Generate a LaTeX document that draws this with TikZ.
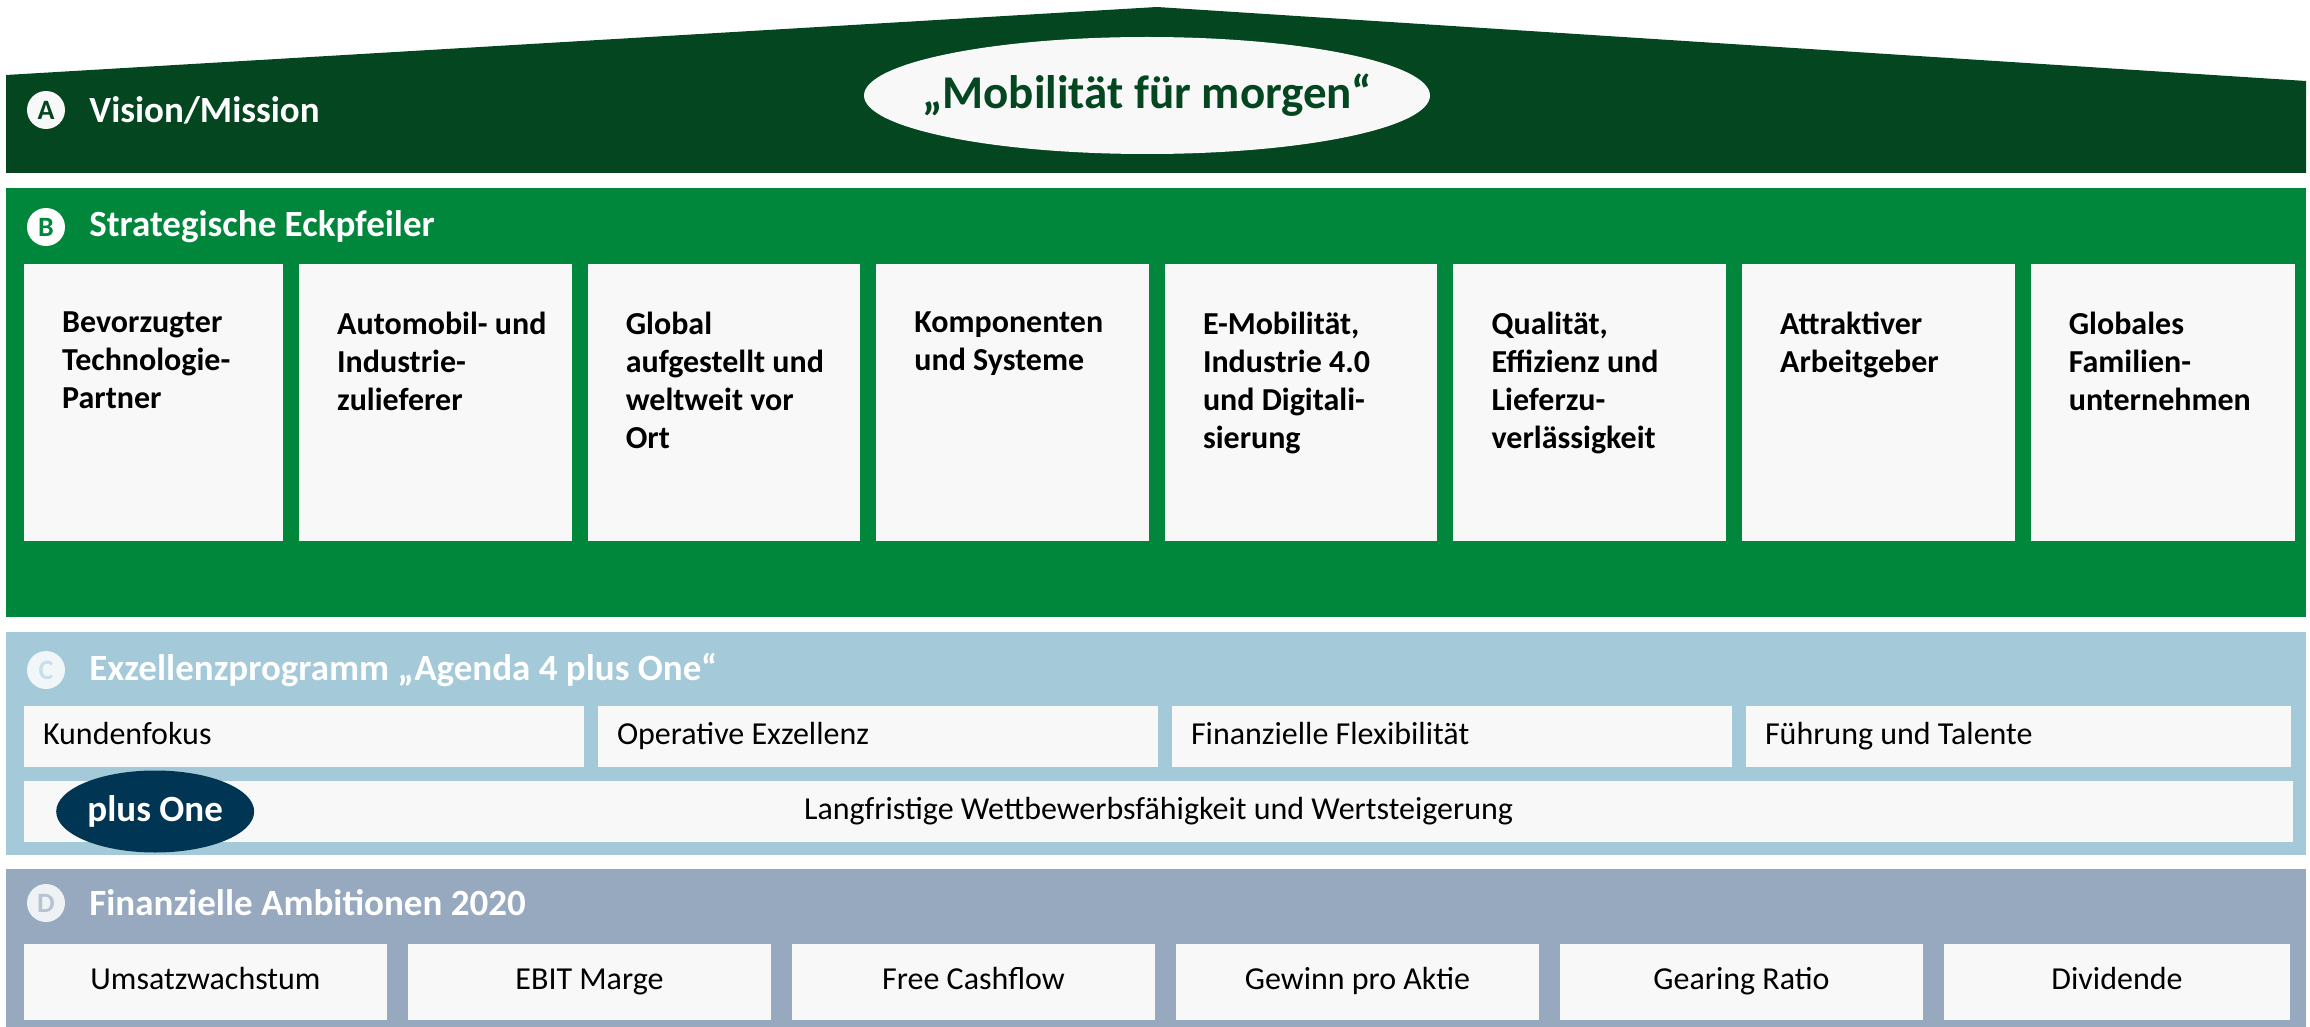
\documentclass[tikz,border=0pt]{standalone}
\usepackage{fontspec}
\setmainfont{Carlito}
\usetikzlibrary{positioning,shapes.geometric}

\definecolor{visiongreen}{HTML}{03461F}
\definecolor{pillargreen}{HTML}{00873C}
\definecolor{agendablue}{HTML}{A4C9D8}
\definecolor{ambitiongrey}{HTML}{97A9BF}
\definecolor{boxwhite}{HTML}{F8F8F8}
\definecolor{plusnavy}{HTML}{003654}

\begin{document}
\begin{tikzpicture}[
        x=1pt, y=-1pt,
        node distance=16pt,
        band/.style={
            rectangle,
            minimum width=2300pt,
            anchor=north west,
            inner sep=0pt,
            outer sep=0pt,
        },
        badge/.style={
            circle,
            minimum size=38pt,
            inner sep=0pt,
            font=\fontsize{28}{32}\selectfont\bfseries,
        },
        bandtitle/.style={
            inner sep=0pt,
            text=white,
            font=\fontsize{37}{44}\selectfont\bfseries,
        },
        motto/.style={
            ellipse,
            fill=boxwhite,
            minimum width=566pt,
            minimum height=117pt,
            inner xsep=-30pt,
            inner ysep=0pt,
            text=visiongreen,
            font=\fontsize{47}{56}\selectfont\bfseries,
        },
        pillar/.style={
            rectangle,
            fill=boxwhite,
            minimum width=272.6pt,
            minimum height=277pt,
            outer sep=0pt,
        },
        pillartext/.style={
            inner sep=0pt,
            align=left,
            font=\fontsize{32}{38}\selectfont\bfseries,
            execute at begin node={\spaceskip=0.226em\relax},
        },
        agenda/.style={
            rectangle,
            fill=boxwhite,
            minimum height=61pt,
            text width=522pt,
            inner xsep=19pt,
            inner ysep=0pt,
            align=left,
            outer sep=0pt,
            font=\fontsize{32}{38}\selectfont,
            execute at begin node={\spaceskip=0.226em\relax},
        },
        plusone/.style={
            ellipse,
            fill=plusnavy,
            minimum width=198pt,
            minimum height=82pt,
            inner sep=0pt,
            text=white,
            font=\fontsize{37}{44}\selectfont\bfseries,
        },
        ambition/.style={
            rectangle,
            fill=boxwhite,
            minimum width=363pt,
            minimum height=76pt,
            inner sep=0pt,
            outer sep=0pt,
            font=\fontsize{32}{38}\selectfont,
        },
    ]
    \useasboundingbox (0,0) rectangle (2310,1027);

    \fill[visiongreen] (6,75) -- (1157,7) -- (2306,81) -- (2306,173) -- (6,173) -- cycle;
    \node[badge, fill=boxwhite, text=visiongreen] (badgeA) at (46,110) {A};
    \node[bandtitle, right=24pt of badgeA] (titleA) {Vision/Mission};
    \node[motto] (motto) at (1147,95.5) {„Mobilität für morgen“};

    \node[band, fill=pillargreen, minimum height=429pt] (bandB) at (6,188) {};
    \node[badge, fill=white, text=pillargreen] (badgeB) at (46,227) {B};
    \node[bandtitle, right=24pt of badgeB] (titleB) {Strategische Eckpfeiler};

    \node[pillar, minimum width=259pt, anchor=north west] (p1) at (24,264) {};
    \node[pillar, right=of p1] (p2) {};
    \node[pillar, right=of p2] (p3) {};
    \node[pillar, right=of p3] (p4) {};
    \node[pillar, right=of p4] (p5) {};
    \node[pillar, right=of p5] (p6) {};
    \node[pillar, right=of p6] (p7) {};
    \node[pillar, minimum width=264pt, right=of p7] (p8) {};

    \node[pillartext, below right=48pt and 38pt of p1.north west] (t1) {Bevorzugter\\Technologie-\\Partner};
    \node[pillartext, below right=48pt and 38pt of p2.north west] (t2) {Automobil- und\\Industrie-\\zulieferer};
    \node[pillartext, below right=48pt and 38pt of p3.north west] (t3) {Global\\aufgestellt und\\weltweit vor\\Ort};
    \node[pillartext, below right=48pt and 38pt of p4.north west] (t4) {Komponenten\\und Systeme};
    \node[pillartext, below right=48pt and 38pt of p5.north west] (t5) {E-Mobilität,\\Industrie 4.0\\und Digitali-\\sierung};
    \node[pillartext, below right=48pt and 38pt of p6.north west] (t6) {Qualität,\\Effizienz und\\Lieferzu-\\verlässigkeit};
    \node[pillartext, below right=48pt and 38pt of p7.north west] (t7) {Attraktiver\\Arbeitgeber};
    \node[pillartext, below right=48pt and 38pt of p8.north west] (t8) {Globales\\Familien-\\unternehmen};

    \node[band, fill=agendablue, minimum height=223pt, below=15pt of bandB.south west, anchor=north west] (bandC) {};
    \node[badge, fill=white!85!agendablue, text=agendablue!60!white] (badgeC) at (46,670) {C};
    \node[bandtitle, right=24pt of badgeC] (titleC) {Exzellenzprogramm „Agenda 4 plus One“};

    \node[agenda, anchor=north west] (a1) at (24,706) {\strut Kundenfokus};
    \node[agenda, right=14pt of a1] (a2) {\strut Operative Exzellenz};
    \node[agenda, right=14pt of a2] (a3) {\strut Finanzielle Flexibilität};
    \node[agenda, text width=507pt, right=14pt of a3] (a4) {\strut Führung und Talente};
    \node[agenda, text width=2231pt, align=center, below=14pt of a1.south west, anchor=north west] (a5) {\strut Langfristige Wettbewerbsfähigkeit und Wertsteigerung};
    \node[plusone, right=32pt of a5.west] (plus) {plus One};

    \node[band, fill=ambitiongrey, minimum height=158pt, below=14pt of bandC.south west, anchor=north west] (bandD) {};
    \node[badge, fill=white!85!ambitiongrey, text=ambitiongrey!70!white] (badgeD) at (46,903) {D};
    \node[bandtitle, right=24pt of badgeD] (titleD) {Finanzielle Ambitionen 2020};

    \node[ambition, anchor=north west] (m1) at (24,944) {\strut Umsatzwachstum};
    \node[ambition, right=21pt of m1] (m2) {\strut EBIT Marge};
    \node[ambition, right=21pt of m2] (m3) {\strut Free Cashflow};
    \node[ambition, right=21pt of m3] (m4) {\strut Gewinn pro Aktie};
    \node[ambition, right=21pt of m4] (m5) {\strut Gearing Ratio};
    \node[ambition, minimum width=346pt, right=21pt of m5] (m6) {\strut Dividende};
\end{tikzpicture}
\end{document}
